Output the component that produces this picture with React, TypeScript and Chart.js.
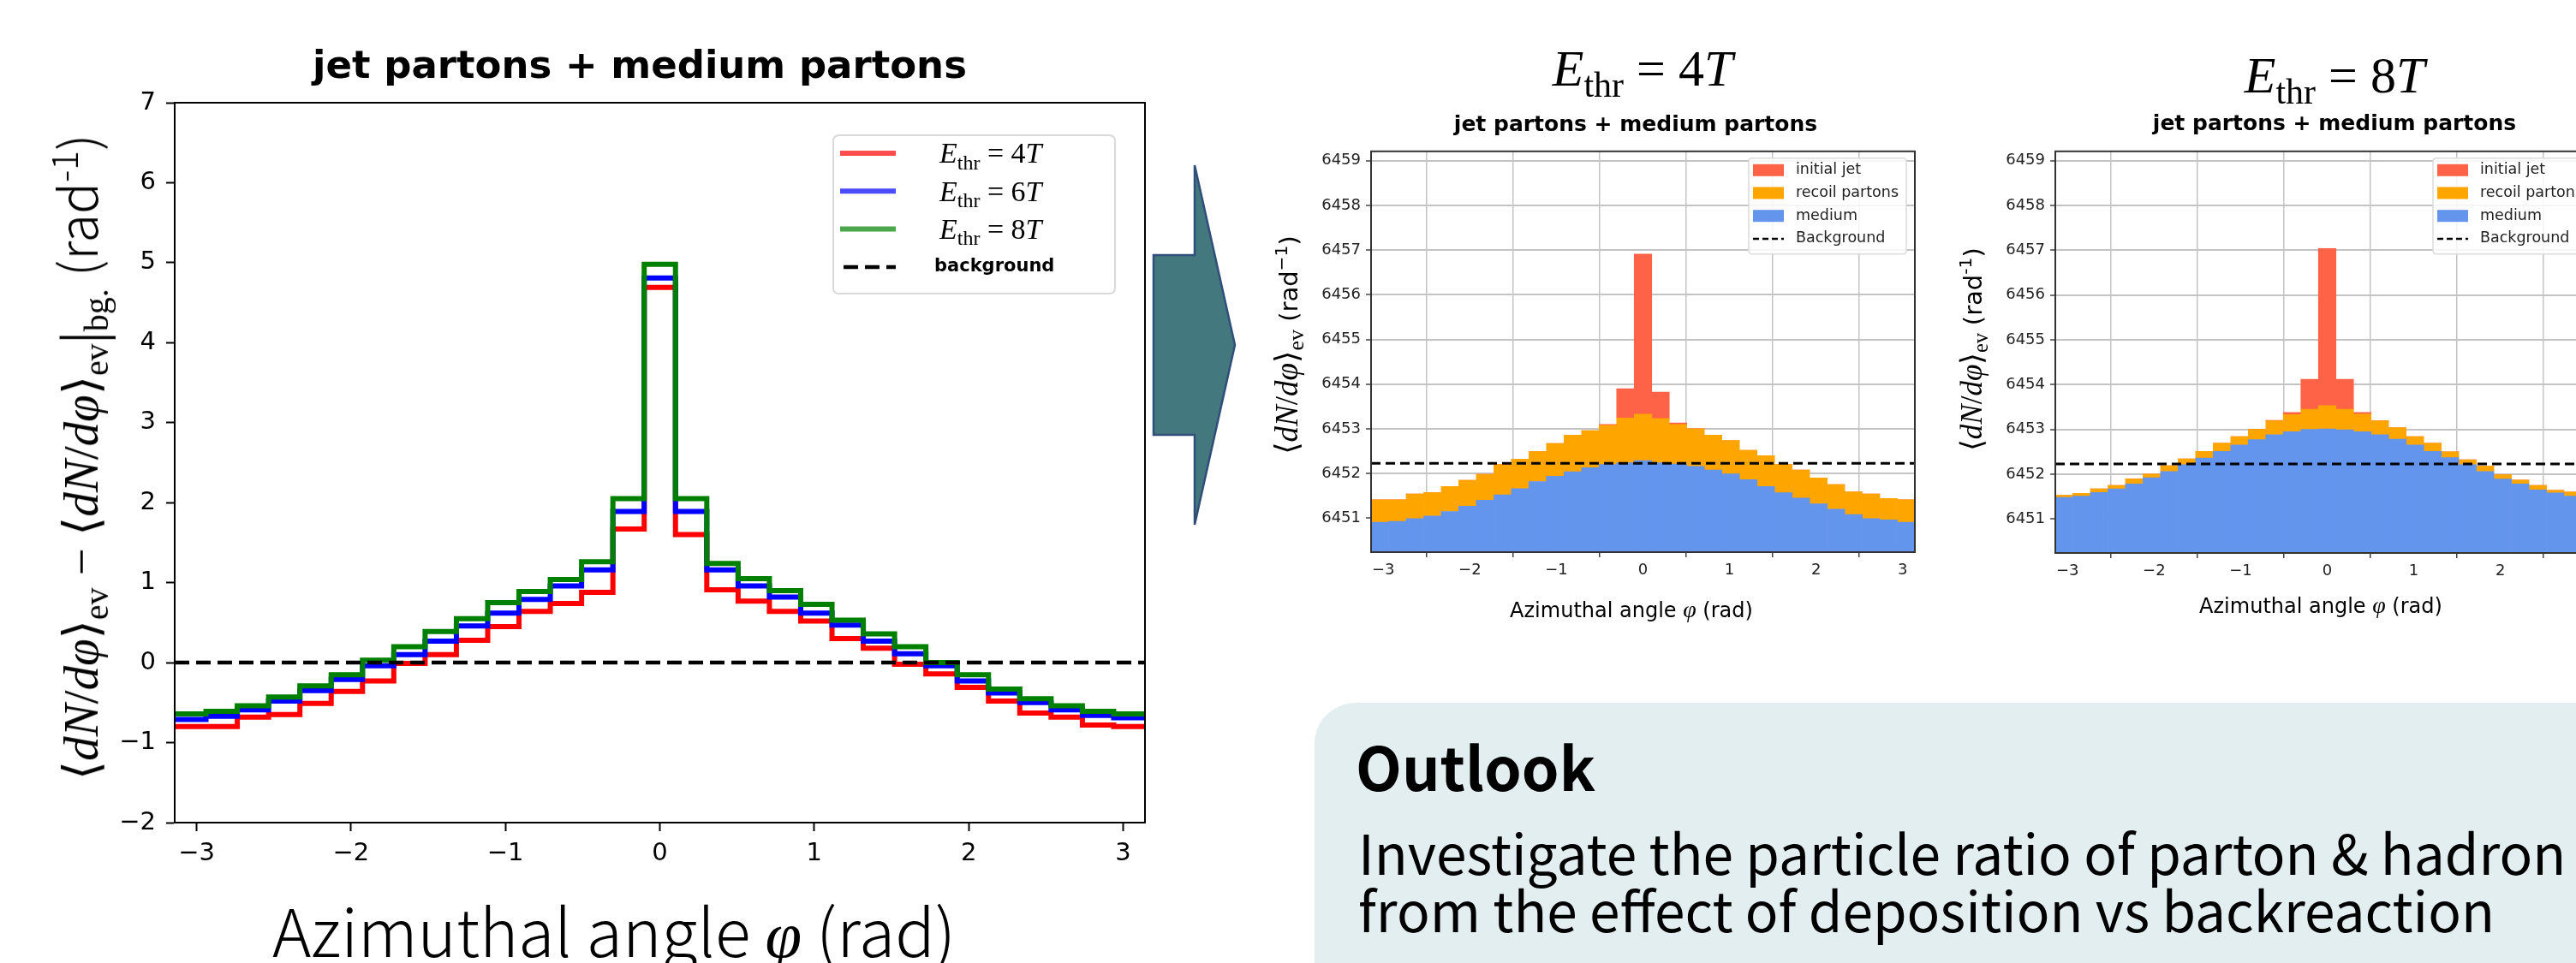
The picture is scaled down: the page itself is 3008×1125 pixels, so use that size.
import React, { useEffect, useRef } from "react";
import { Chart, registerables } from "chart.js";

Chart.register(...registerables);

// ---------------- data ----------------
const N_BINS = 31;
const PHI_MIN = -Math.PI;
const PHI_MAX = Math.PI;

const xTickValues = [-3, -2, -1, 0, 1, 2, 3];
const leftYTickValues = [-2, -1, 0, 1, 2, 3, 4, 5, 6, 7];
const rightYTickValues = [6451, 6452, 6453, 6454, 6455, 6456, 6457, 6458, 6459];

// left panel: <dN/dphi>_ev - <dN/dphi>_ev|bg
const diff4T = [-0.80, -0.80, -0.68, -0.65, -0.51, -0.36, -0.23, -0.01, 0.10, 0.28, 0.45, 0.64, 0.74, 0.88, 1.67, 4.69, 1.60, 0.91, 0.77, 0.64, 0.52, 0.30, 0.18, -0.02, -0.14, -0.31, -0.48, -0.63, -0.68, -0.78, -0.80];
const diff6T = [-0.71, -0.67, -0.59, -0.48, -0.35, -0.21, -0.04, 0.10, 0.27, 0.46, 0.62, 0.79, 0.96, 1.16, 1.89, 4.81, 1.89, 1.16, 0.96, 0.82, 0.62, 0.47, 0.27, 0.11, -0.04, -0.23, -0.38, -0.50, -0.59, -0.66, -0.69];
const diff8T = [-0.64, -0.61, -0.54, -0.43, -0.29, -0.15, 0.03, 0.20, 0.39, 0.55, 0.75, 0.89, 1.04, 1.26, 2.05, 4.98, 2.05, 1.24, 1.05, 0.90, 0.73, 0.53, 0.36, 0.20, 0.00, -0.15, -0.33, -0.45, -0.54, -0.61, -0.64];
const diffBackground = 0;
const leftLabels = ["E_thr = 4T", "E_thr = 6T", "E_thr = 8T", "background"];

// middle panel (E_thr = 4T): stacked contributions
const medium4T = [6450.91, 6450.93, 6450.99, 6451.05, 6451.15, 6451.27, 6451.40, 6451.52, 6451.66, 6451.82, 6451.94, 6452.04, 6452.13, 6452.20, 6452.24, 6452.29, 6452.24, 6452.21, 6452.16, 6452.08, 6451.99, 6451.86, 6451.71, 6451.57, 6451.45, 6451.32, 6451.20, 6451.08, 6450.99, 6450.96, 6450.91];
const recoil4T = [0.50, 0.48, 0.55, 0.52, 0.56, 0.58, 0.58, 0.68, 0.66, 0.67, 0.73, 0.82, 0.83, 0.88, 1.00, 1.04, 0.99, 0.89, 0.84, 0.78, 0.75, 0.66, 0.69, 0.63, 0.63, 0.58, 0.55, 0.51, 0.55, 0.48, 0.50];
const initialJet4T = [0, 0, 0, 0, 0, 0, 0, 0, 0, 0, 0, 0, 0, 0.02, 0.66, 3.58, 0.59, 0.03, 0, 0, 0, 0, 0, 0, 0, 0, 0, 0, 0, 0, 0];
const background4T = 6452.23;

// right panel (E_thr = 8T)
const medium8T = [6451.48, 6451.51, 6451.59, 6451.67, 6451.78, 6451.92, 6452.06, 6452.21, 6452.36, 6452.51, 6452.65, 6452.77, 6452.88, 6452.95, 6453.00, 6453.01, 6452.99, 6452.95, 6452.88, 6452.78, 6452.65, 6452.51, 6452.37, 6452.21, 6452.06, 6451.89, 6451.78, 6451.65, 6451.58, 6451.51, 6451.48];
const recoil8T = [0.05, 0.06, 0.08, 0.08, 0.11, 0.08, 0.13, 0.13, 0.15, 0.18, 0.19, 0.23, 0.31, 0.38, 0.45, 0.52, 0.46, 0.39, 0.31, 0.26, 0.19, 0.18, 0.13, 0.11, 0.12, 0.10, 0.09, 0.10, 0.06, 0.09, 0.05];
const initialJet8T = [0, 0, 0, 0, 0, 0, 0, 0, 0, 0, 0, 0, 0.01, 0.05, 0.67, 3.51, 0.67, 0.04, 0, 0, 0, 0, 0, 0, 0, 0, 0, 0, 0, 0, 0];
const background8T = 6452.23;

const stackLabels = ["medium", "recoil partons", "initial jet", "Background"];
const legendOrder = ["initial jet", "recoil partons", "medium", "Background"];
const panelThresholds = ["4", "8"];

// ---------------- helpers ----------------
const SERIF = "'Liberation Serif', 'DejaVu Serif', serif";
const DV = "'DejaVu Sans', sans-serif";
const JP = "'Noto Sans CJK JP', 'Noto Sans', sans-serif";

const binWidth = (PHI_MAX - PHI_MIN) / N_BINS;
const binEdges = Array.from({ length: N_BINS + 1 }, (_, i) => PHI_MIN + i * binWidth);
const binCenters = Array.from({ length: N_BINS }, (_, i) => PHI_MIN + (i + 0.5) * binWidth);
const stepPoints = (vals: number[]) => binEdges.map((x, i) => ({ x, y: vals[Math.min(i, vals.length - 1)] }));
const barPoints = (vals: number[]) => binCenters.map((x, i) => ({ x, y: vals[i] }));
const fmtMinus = (v: number) => (v < 0 ? "\u2212" + Math.abs(v) : String(v));

function roundRect(ctx: CanvasRenderingContext2D, x: number, y: number, w: number, h: number, r: number) {
  ctx.beginPath();
  ctx.moveTo(x + r, y);
  ctx.lineTo(x + w - r, y);
  ctx.quadraticCurveTo(x + w, y, x + w, y + r);
  ctx.lineTo(x + w, y + h - r);
  ctx.quadraticCurveTo(x + w, y + h, x + w - r, y + h);
  ctx.lineTo(x + r, y + h);
  ctx.quadraticCurveTo(x, y + h, x, y + h - r);
  ctx.lineTo(x, y + r);
  ctx.quadraticCurveTo(x, y, x + r, y);
  ctx.closePath();
}

function drawMath(ctx: CanvasRenderingContext2D, label: string, x: number, y: number, size: number) {
  const m = /^(\w)_(\w+) = (\d)(\w)$/.exec(label);
  ctx.textBaseline = "alphabetic";
  ctx.textAlign = "left";
  const base = y + size * 0.33;
  if (!m) {
    ctx.font = `${size}px ${SERIF}`;
    ctx.fillText(label, x, base);
    return;
  }
  let cx = x;
  ctx.font = `italic ${size}px ${SERIF}`;
  ctx.fillText(m[1], cx, base);
  cx += ctx.measureText(m[1]).width;
  ctx.font = `${Math.round(size * 0.7)}px ${SERIF}`;
  ctx.fillText(m[2], cx, base + size * 0.22);
  cx += ctx.measureText(m[2]).width;
  ctx.font = `${size}px ${SERIF}`;
  const eq = " = " + m[3];
  ctx.fillText(eq, cx, base);
  cx += ctx.measureText(eq).width;
  ctx.font = `italic ${size}px ${SERIF}`;
  ctx.fillText(m[4], cx, base);
}

const framePlugin = (color: string, width: number) => ({
  id: "frame",
  afterDraw(chart: any) {
    const { ctx, chartArea: a } = chart;
    ctx.save();
    ctx.strokeStyle = color;
    ctx.lineWidth = width;
    ctx.strokeRect(a.left, a.top, a.right - a.left, a.bottom - a.top);
    ctx.restore();
  },
});

const leftLegendPlugin = {
  id: "leftLegend",
  afterDraw(chart: any) {
    const { ctx, chartArea: a } = chart;
    const w = 329, h = 185;
    const bx = a.right - 35 - w, by = a.top + 38;
    ctx.save();
    roundRect(ctx, bx, by, w, h, 7);
    ctx.fillStyle = "rgba(255,255,255,0.85)";
    ctx.fill();
    ctx.strokeStyle = "#d9d9d9";
    ctx.lineWidth = 2;
    ctx.stroke();
    chart.data.datasets.forEach((ds: any, i: number) => {
      const ry = by + 21 + i * 44.3;
      ctx.save();
      ctx.beginPath();
      ctx.strokeStyle = ds.borderColor;
      if (ds.borderDash) {
        ctx.setLineDash([17, 8]);
        ctx.lineWidth = 4.5;
        ctx.moveTo(bx + 12, ry);
        ctx.lineTo(bx + 73, ry);
      } else {
        ctx.globalAlpha = 0.7;
        ctx.lineWidth = 6;
        ctx.moveTo(bx + 8, ry);
        ctx.lineTo(bx + 73, ry);
      }
      ctx.stroke();
      ctx.restore();
      ctx.fillStyle = "#000";
      if (ds.label.startsWith("E_")) {
        drawMath(ctx, ds.label, bx + 124, ry, 34);
      } else {
        ctx.font = `bold 21px ${DV}`;
        ctx.textBaseline = "middle";
        ctx.textAlign = "left";
        ctx.fillText(ds.label, bx + 118, ry);
      }
    });
    ctx.restore();
  },
};

const stackLegendPlugin = {
  id: "stackLegend",
  afterDraw(chart: any) {
    const { ctx, chartArea: a } = chart;
    const w = 184, h = 112;
    const bx = a.right - 10 - w, by = a.top + 8;
    ctx.save();
    roundRect(ctx, bx, by, w, h, 4);
    ctx.fillStyle = "rgba(255,255,255,0.85)";
    ctx.fill();
    ctx.strokeStyle = "#dcdcdc";
    ctx.lineWidth = 1.5;
    ctx.stroke();
    legendOrder.forEach((lab, i) => {
      const ds = chart.data.datasets.find((d: any) => d.label === lab);
      if (!ds) return;
      const ry = by + 14 + i * 26.7;
      if (ds.type === "line") {
        ctx.save();
        ctx.beginPath();
        ctx.setLineDash([7, 4]);
        ctx.strokeStyle = "#000";
        ctx.lineWidth = 2.5;
        ctx.moveTo(bx + 5, ry);
        ctx.lineTo(bx + 41, ry);
        ctx.stroke();
        ctx.restore();
      } else {
        ctx.fillStyle = ds.backgroundColor;
        ctx.fillRect(bx + 5, ry - 7, 36, 14);
      }
      ctx.fillStyle = "#222";
      ctx.font = `17.5px ${DV}`;
      ctx.textBaseline = "middle";
      ctx.textAlign = "left";
      ctx.fillText(lab, bx + 55, ry);
    });
    ctx.restore();
  },
};

function leftConfig(): any {
  return {
    type: "line",
    data: {
      datasets: [
        { label: leftLabels[0], data: stepPoints(diff4T), borderColor: "#ff0000", borderWidth: 6, stepped: "before", pointRadius: 0, fill: false, order: 3, borderJoinStyle: "miter" },
        { label: leftLabels[1], data: stepPoints(diff6T), borderColor: "#0000ff", borderWidth: 6, stepped: "before", pointRadius: 0, fill: false, order: 2, borderJoinStyle: "miter" },
        { label: leftLabels[2], data: stepPoints(diff8T), borderColor: "#008000", borderWidth: 6, stepped: "before", pointRadius: 0, fill: false, order: 1, borderJoinStyle: "miter" },
        { label: leftLabels[3], data: [{ x: PHI_MIN, y: diffBackground }, { x: PHI_MAX, y: diffBackground }], borderColor: "#000000", borderWidth: 4.5, borderDash: [17, 8], pointRadius: 0, fill: false, order: 0 },
      ],
    },
    options: {
      animation: false,
      responsive: false,
      devicePixelRatio: 1,
      events: [],
      layout: { padding: { top: 120, right: 13, left: 0, bottom: 0 } },
      plugins: { legend: { display: false }, tooltip: { enabled: false }, title: { display: false } },
      scales: {
        x: {
          type: "linear",
          min: PHI_MIN,
          max: PHI_MAX,
          afterBuildTicks: (s: any) => { s.ticks = xTickValues.map((v) => ({ value: v })); },
          afterFit: (s: any) => { s.height = 79; },
          grid: { drawOnChartArea: false, drawTicks: true, tickLength: 10, tickColor: "#000", tickWidth: 2 },
          border: { display: true, color: "#000", width: 2 },
          ticks: { color: "#000", font: { family: DV, size: 29 }, padding: 9, maxRotation: 0, autoSkip: false, callback: (v: any) => fmtMinus(Number(v)) },
        },
        y: {
          type: "linear",
          min: leftYTickValues[0],
          max: leftYTickValues[leftYTickValues.length - 1],
          afterBuildTicks: (s: any) => { s.ticks = leftYTickValues.map((v) => ({ value: v })); },
          afterFit: (s: any) => { s.width = 204; },
          grid: { drawOnChartArea: false, drawTicks: true, tickLength: 10, tickColor: "#000", tickWidth: 2 },
          border: { display: true, color: "#000", width: 2 },
          ticks: { color: "#000", font: { family: DV, size: 29 }, padding: 12, autoSkip: false, callback: (v: any) => fmtMinus(Number(v)) },
        },
      },
    },
    plugins: [framePlugin("#000", 2), leftLegendPlugin],
  };
}

function stackConfig(p: { medium: number[]; recoil: number[]; jet: number[]; bg: number; yW: number; padTop: number; padRight: number; xH: number }): any {
  const barCommon = { borderWidth: 0, barPercentage: 1, categoryPercentage: 1, grouped: false };
  return {
    type: "bar",
    data: {
      datasets: [
        { type: "bar", label: stackLabels[0], data: barPoints(p.medium), backgroundColor: "#6495ED", ...barCommon },
        { type: "bar", label: stackLabels[1], data: barPoints(p.recoil), backgroundColor: "#FFA500", ...barCommon },
        { type: "bar", label: stackLabels[2], data: barPoints(p.jet), backgroundColor: "#FF6347", ...barCommon },
        { type: "line", label: stackLabels[3], data: [{ x: PHI_MIN, y: p.bg }, { x: PHI_MAX, y: p.bg }], borderColor: "#000", borderWidth: 3, borderDash: [11, 6], pointRadius: 0, fill: false, stack: "bg", order: -1 },
      ],
    },
    options: {
      animation: false,
      responsive: false,
      devicePixelRatio: 1,
      events: [],
      layout: { padding: { top: p.padTop, right: p.padRight, left: 0, bottom: 0 } },
      plugins: { legend: { display: false }, tooltip: { enabled: false }, title: { display: false } },
      scales: {
        x: {
          type: "linear",
          stacked: true,
          offset: false,
          min: PHI_MIN,
          max: PHI_MAX,
          z: 1,
          afterBuildTicks: (s: any) => { s.ticks = xTickValues.map((v) => ({ value: v })); },
          afterFit: (s: any) => { s.height = p.xH; },
          grid: { color: "#c4c4c4", lineWidth: 1.5, drawTicks: true, tickLength: 6, tickColor: "#444", tickWidth: 1.5 },
          border: { display: true, color: "#333", width: 2 },
          ticks: { color: "#222", font: { family: DV, size: 18 }, padding: 5, maxRotation: 0, autoSkip: false, callback: (v: any) => fmtMinus(Number(v)) },
        },
        y: {
          type: "linear",
          stacked: true,
          min: 6450.24,
          max: 6459.21,
          z: 1,
          afterBuildTicks: (s: any) => { s.ticks = rightYTickValues.map((v) => ({ value: v })); },
          afterFit: (s: any) => { s.width = p.yW; },
          grid: { color: "#c4c4c4", lineWidth: 2, drawTicks: true, tickLength: 6, tickColor: "#444", tickWidth: 1.5 },
          border: { display: true, color: "#333", width: 2 },
          ticks: { color: "#222", font: { family: DV, size: 18 }, padding: 6, autoSkip: false, callback: (v: any) => String(v) },
        },
      },
    },
    plugins: [framePlugin("#333", 2), stackLegendPlugin],
  };
}

function ChartCanvas({ left, top, width, height, make }: { left: number; top: number; width: number; height: number; make: () => any }) {
  const ref = useRef<HTMLCanvasElement | null>(null);
  useEffect(() => {
    if (!ref.current) return;
    const chart = new Chart(ref.current, make());
    return () => chart.destroy();
  }, []);
  return <canvas ref={ref} width={width} height={height} style={{ position: "absolute", left, top, width, height }} />;
}

const subStyle: React.CSSProperties = { fontSize: "0.7em", verticalAlign: "-0.3em", lineHeight: 0 };
const supStyle: React.CSSProperties = { fontSize: "0.7em", verticalAlign: "0.55em", lineHeight: 0 };

function Ethr({ n }: { n: string }) {
  return (
    <span style={{ fontFamily: SERIF }}>
      <i>E</i>
      <span style={subStyle}>thr</span> = {n}
      <i>T</i>
    </span>
  );
}

function DNdPhi() {
  return (
    <>
      ⟨<i>dN</i>/<i>d</i><i>φ</i>⟩<span style={subStyle}>ev</span>
    </>
  );
}

function Centered({ x, y, rotate, style, children }: { x: number; y: number; rotate?: boolean; style?: React.CSSProperties; children: any }) {
  return (
    <div
      style={{
        position: "absolute",
        left: x,
        top: y,
        transform: `translate(-50%, -50%)${rotate ? " rotate(-90deg)" : ""}`,
        whiteSpace: "nowrap",
        lineHeight: 1,
        color: "#000",
        pointerEvents: "none",
        ...style,
      }}
    >
      {children}
    </div>
  );
}

export default function App() {
  return (
    <div style={{ position: "fixed", left: 0, top: 0, width: 3008, height: 1125, overflow: "hidden", background: "#fff" }}>
      <ChartCanvas left={0} top={0} width={1350} height={1040} make={leftConfig} />
      <ChartCanvas
        left={1500}
        top={160}
        width={745}
        height={560}
        make={() => stackConfig({ medium: medium4T, recoil: recoil4T, jet: initialJet4T, bg: background4T, yW: 101, padTop: 14, padRight: 9, xH: 75 })}
      />
      <ChartCanvas
        left={2300}
        top={160}
        width={745}
        height={560}
        make={() => stackConfig({ medium: medium8T, recoil: recoil8T, jet: initialJet8T, bg: background8T, yW: 100, padTop: 15, padRight: 10, xH: 74 })}
      />

      {/* left panel texts */}
      <Centered x={747} y={75} style={{ fontFamily: DV, fontWeight: 700, fontSize: 45 }}>
        jet partons + medium partons
      </Centered>
      <Centered x={90} y={534} rotate style={{ fontFamily: SERIF, fontSize: 57 }}>
        <DNdPhi /> − <DNdPhi /><span style={{ fontSize: "1.25em", verticalAlign: "-0.08em", lineHeight: 0 }}>|</span>
        <span style={subStyle}>bg.</span>
        {"  "}
        <span style={{ fontFamily: JP, fontWeight: 300, fontSize: 61 }}>
          (rad<span style={supStyle}>-1</span>)
        </span>
      </Centered>
      <Centered x={717} y={1088} style={{ fontFamily: JP, fontSize: 77, fontWeight: 300 }}>
        Azimuthal angle <i style={{ fontFamily: SERIF }}>φ</i> (rad)
      </Centered>

      {/* arrow */}
      <svg width={3008} height={1125} style={{ position: "absolute", left: 0, top: 0, pointerEvents: "none" }}>
        <polygon points="1347,298 1395,298 1395,193 1442,403 1395,613 1395,508 1347,508" fill="#44787F" stroke="#2F4E7A" strokeWidth={2.5} />
      </svg>

      {/* middle panel texts */}
      <Centered x={1918} y={80} style={{ fontSize: 60 }}>
        <Ethr n={panelThresholds[0]} />
      </Centered>
      <Centered x={1910} y={144} style={{ fontFamily: DV, fontWeight: 700, fontSize: 25 }}>
        jet partons + medium partons
      </Centered>
      <Centered x={1502} y={403} rotate style={{ fontFamily: SERIF, fontSize: 37 }}>
        <DNdPhi />{" "}
        <span style={{ fontFamily: DV, fontSize: 29 }}>
          (rad<span style={supStyle}>−1</span>)
        </span>
      </Centered>
      <Centered x={1905} y={712} style={{ fontFamily: DV, fontSize: 24 }}>
        Azimuthal angle <i style={{ fontFamily: SERIF, fontSize: 28 }}>φ</i> (rad)
      </Centered>

      {/* right panel texts */}
      <Centered x={2726} y={88} style={{ fontSize: 60 }}>
        <Ethr n={panelThresholds[1]} />
      </Centered>
      <Centered x={2726} y={143} style={{ fontFamily: DV, fontWeight: 700, fontSize: 25 }}>
        jet partons + medium partons
      </Centered>
      <Centered x={2302} y={408} rotate style={{ fontFamily: SERIF, fontSize: 35 }}>
        <DNdPhi />{" "}
        <span style={{ fontFamily: DV, fontSize: 29 }}>
          (rad<span style={supStyle}>-1</span>)
        </span>
      </Centered>
      <Centered x={2710} y={707} style={{ fontFamily: DV, fontSize: 24 }}>
        Azimuthal angle <i style={{ fontFamily: SERIF, fontSize: 28 }}>φ</i> (rad)
      </Centered>

      {/* outlook box */}
      <div style={{ position: "absolute", left: 1535, top: 821, width: 1600, height: 400, borderRadius: 48, background: "#E3EEF1" }} />
      <div style={{ position: "absolute", left: 1583, top: 894, transform: "translateY(-50%)", fontFamily: JP, fontWeight: 700, fontSize: 70, lineHeight: 1, whiteSpace: "nowrap" }}>
        Outlook
      </div>
      <div style={{ position: "absolute", left: 1586, top: 994, transform: "translateY(-50%)", fontFamily: JP, fontSize: 64, lineHeight: 1, whiteSpace: "nowrap" }}>
        Investigate the particle ratio of parton &amp; hadron
      </div>
      <div style={{ position: "absolute", left: 1586, top: 1061, transform: "translateY(-50%)", fontFamily: JP, fontSize: 64, lineHeight: 1, whiteSpace: "nowrap" }}>
        from the effect of deposition vs backreaction
      </div>
    </div>
  );
}
